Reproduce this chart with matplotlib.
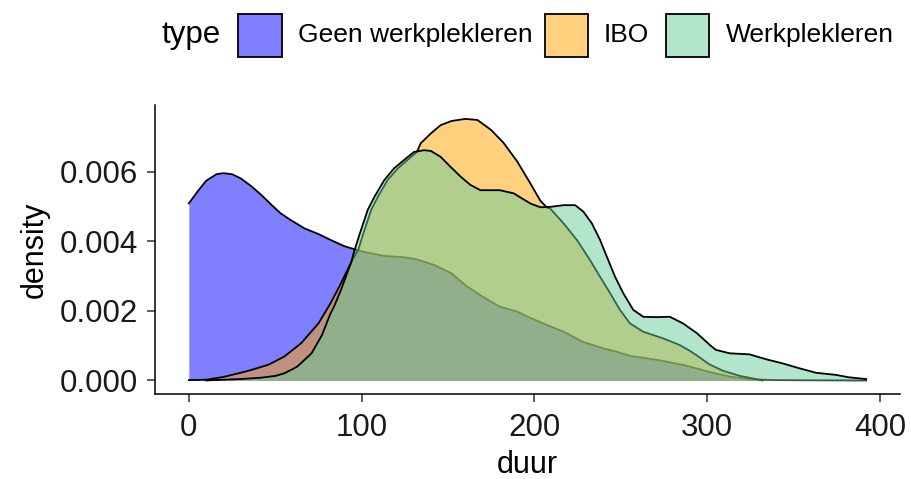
import matplotlib
matplotlib.use("Agg")
import matplotlib.pyplot as plt
from matplotlib.patches import Rectangle

plt.rcParams['font.family'] = ['Liberation Sans', 'DejaVu Sans']

# ---- data ----
types = ["Geen werkplekleren", "IBO", "Werkplekleren"]
fill_colors = ["#0000FF", "#FFA500", "#66CC99"]

geen_x = [0, 5, 10, 16, 20, 25, 30, 36, 42, 48,
          53, 59, 67, 75, 82, 90, 96, 101, 113, 125,
          132, 142, 152, 161, 171, 180, 190, 198, 207, 217,
          228, 240, 248, 255, 271, 286, 301, 313, 326, 340,
          360, 392]
geen_y = [0.00509, 0.00543, 0.00574, 0.00593, 0.00596, 0.00593, 0.00581, 0.00559, 0.00533, 0.00504,
          0.00481, 0.00461, 0.00437, 0.00421, 0.00404, 0.00386, 0.00377, 0.00370, 0.00358, 0.00354,
          0.00348, 0.00332, 0.00308, 0.00270, 0.00238, 0.00212, 0.00198, 0.00179, 0.00160, 0.00140,
          0.00111, 0.00092, 0.00082, 0.00071, 0.00059, 0.00045, 0.00025, 0.00011, 0.00003, 0.00001,
          0.000005, 0.0]

ibo_x = [0, 10, 20, 30, 36, 46, 55, 65, 75, 82,
         88, 92, 95, 98, 101.6, 105.5, 109.4, 115, 121, 126.5,
         132, 134.2, 140, 145.7, 152, 160, 167, 175, 182, 190,
         197.6, 203.4, 207.3, 209.2, 216.8, 224.6, 232.2, 238, 243.8, 249.5,
         255.3, 263, 274.5, 284, 290, 294, 301, 309, 319, 328,
         332]
ibo_y = [0.00001, 0.00002, 0.0001, 0.00022, 0.0003, 0.00045, 0.00068, 0.00107, 0.00164, 0.00222,
         0.00279, 0.0032, 0.0035, 0.00375, 0.00432, 0.0049, 0.00528, 0.00576, 0.0061, 0.00634,
         0.00657, 0.00682, 0.0071, 0.00734, 0.00746, 0.00752, 0.00749, 0.0072, 0.00684, 0.0063,
         0.00567, 0.00517, 0.00497, 0.00494, 0.00452, 0.00404, 0.00346, 0.00298, 0.00251, 0.00203,
         0.00164, 0.0014, 0.00121, 0.00102, 0.00085, 0.00072, 0.00047, 0.00028, 0.00013, 0.00004,
         0.0]

werk_x = [10, 20, 30, 42, 50, 55, 61, 63, 71, 77,
          82, 84, 88, 93.8, 95.9, 99.6, 103.5, 107.4, 113.1, 118.8,
          124.6, 130.3, 136.1, 140, 145.7, 151.5, 157.3, 163, 168.8, 180,
          188, 197.6, 203.4, 209.2, 216.8, 223.6, 228.4, 233.2, 238, 241.9,
          246.7, 251.4, 257.2, 263, 270.7, 278.4, 286, 290, 294, 298,
          302, 305, 313, 324.5, 334, 343.7, 353.3, 363, 374.5, 382,
          392]
werk_y = [0.0, 0.00002, 0.00004, 0.00008, 0.00013, 0.0002, 0.00035, 0.00041, 0.00078, 0.0013,
          0.00193, 0.00212, 0.0026, 0.00337, 0.00375, 0.00432, 0.0049, 0.00528, 0.00576, 0.0061,
          0.00634, 0.00657, 0.00662, 0.0066, 0.00643, 0.00614, 0.00586, 0.00562, 0.00547, 0.00547,
          0.00538, 0.00509, 0.00498, 0.00499, 0.00504, 0.00504, 0.00485, 0.00452, 0.00404, 0.00356,
          0.00298, 0.00251, 0.00203, 0.00183, 0.00182, 0.00183, 0.00164, 0.0015, 0.00136, 0.00118,
          0.001, 0.00088, 0.00078, 0.00075, 0.00061, 0.00049, 0.00035, 0.00022, 0.00016, 0.00009,
          0.00004]

x_ticks = [0, 100, 200, 300, 400]
y_ticks = [0.000, 0.002, 0.004, 0.006]
y_tick_labels = ["0.000", "0.002", "0.004", "0.006"]

series = [(geen_x, geen_y), (ibo_x, ibo_y), (werk_x, werk_y)]

# ---- figure ----
W, H = 912, 479
fig = plt.figure(figsize=(W / 100, H / 100), dpi=100)
L, R, T, B = 155, 900, 105, 394
ax = fig.add_axes([L / W, 1 - B / H, (R - L) / W, (B - T) / H])

z = 1
for (xs, ys), col in zip(series, fill_colors):
    ax.fill_between(xs, 0, ys, color=col, alpha=0.5, linewidth=0, zorder=z)
    ax.plot(xs, ys, color="black", lw=1.3, zorder=z + 1, solid_joinstyle="round")
    z += 2

ax.set_xlim(-19.6, 411.6)
ax.set_ylim(-0.00039, 0.00792)
ax.set_xticks(x_ticks)
ax.set_xticklabels([str(v) for v in x_ticks])
ax.set_yticks(y_ticks)
ax.set_yticklabels(y_tick_labels)

for s in ["top", "right"]:
    ax.spines[s].set_visible(False)
for s in ["left", "bottom"]:
    ax.spines[s].set_linewidth(1.1)
    ax.spines[s].set_color("black")

ax.tick_params(axis="both", length=6, width=1.1, color="#333333",
               labelsize=22.5, labelcolor="#1a1a1a")
ax.tick_params(axis="x", pad=8)
ax.tick_params(axis="y", pad=6.5)
ax.set_xlabel("duur", fontsize=22, color="black", labelpad=5)
ax.set_ylabel("density", fontsize=22, color="black", labelpad=7)

# ---- legend (top, horizontal) ----
def fx(px):
    return px / W

def fy(py):
    return 1 - py / H

cy = 35
fig.text(fx(162), fy(cy), "type", fontsize=22.5, va="center", ha="left", color="black")
key_left = [238.5, 545, 666]
text_left = [298, 604, 726]
for kl, tl, col, lab in zip(key_left, text_left, fill_colors, types):
    fig.patches.append(Rectangle((fx(kl), fy(57)), 43 / W, 43 / H,
                                 transform=fig.transFigure, facecolor="white",
                                 edgecolor="none"))
    fig.patches.append(Rectangle((fx(kl), fy(57)), 43 / W, 43 / H,
                                 transform=fig.transFigure, facecolor=col, alpha=0.5,
                                 edgecolor="none"))
    fig.patches.append(Rectangle((fx(kl), fy(57)), 43 / W, 43 / H,
                                 transform=fig.transFigure, facecolor="none",
                                 edgecolor="black", lw=1.3))
    fig.text(fx(tl), fy(cy), lab, fontsize=19, va="center", ha="left", color="black")

fig.savefig("out.png", dpi=100)
